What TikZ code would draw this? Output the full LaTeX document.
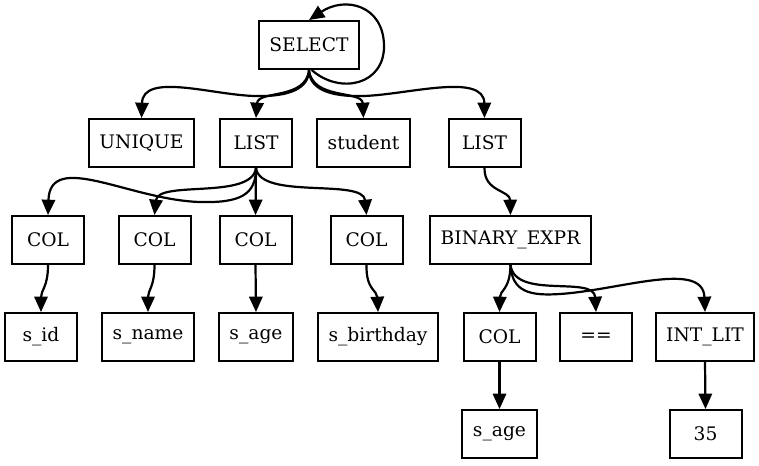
\documentclass[tikz,border=0pt]{standalone}
\usepackage{fontspec}
\setmainfont{DejaVu Serif}
\usetikzlibrary{arrows.meta}
\begin{document}
\begin{tikzpicture}[x=0.75pt,y=-0.75pt,
  box/.style={draw, line width=1.5pt, minimum width=54pt, minimum height=36pt,
    inner xsep=7.9pt, inner ysep=0pt, font=\fontsize{14pt}{16pt}\selectfont},
  conn/.style={line width=1.65pt, -{Triangle[length=11.5pt,width=10pt]}}]
\useasboundingbox (0,0) rectangle (759,465);

% nodes of the syntax tree
\node[box] (sel)  at (309,45)    {SELECT};
\node[box] (uniq) at (141.5,143) {UNIQUE};
\node[box] (lsa)  at (256,143)   {LIST};
\node[box] (stu)  at (363.5,143) {student};
\node[box] (lsb)  at (484.5,143) {LIST};
\node[box] (ca)   at (48,240)    {COL};
\node[box] (cb)   at (154.5,240) {COL};
\node[box] (cc)   at (255.5,240) {COL};
\node[box] (cd)   at (366.5,240) {COL};
\node[box] (bin)  at (510.5,240) {BINARY\_EXPR};
\node[box] (sid)  at (41,337)    {s\_id};
\node[box] (snm)  at (148,337)   {s\_name};
\node[box] (sag)  at (256,337)   {s\_age};
\node[box] (sbd)  at (378,337)   {s\_birthday};
\node[box] (ce)   at (499.5,337) {COL};
\node[box] (eq)   at (596,337)   {==};
\node[box] (ilit) at (705,337)   {INT\_LIT};
\node[box] (sagb) at (499.5,434) {s\_age};
\node[box] (num)  at (705.5,434) {35};

% SELECT children
\draw[conn] (sel.south) .. controls (309,88) and (290,97) .. (255,96)
  .. controls (212,95) and (143,72) .. (uniq.north);
\draw[conn] (sel.south) .. controls (306,100) and (258,90) .. (lsa.north);
\draw[conn] (sel.south) .. controls (312,100) and (362,90) .. (stu.north);
\draw[conn] (sel.south) .. controls (309,88) and (328,97) .. (363,96)
  .. controls (406,95) and (484,72) .. (lsb.north);
\draw[conn] ([xshift=2pt]sel.south) .. controls (340,95) and (385,85) .. (384,45)
  .. controls (383,5) and (345,-4) .. (sel.north);

% first LIST
\draw[conn] (lsa.south) .. controls (256,195) and (240,203) .. (200,202)
  .. controls (130,200) and (50,150) .. (ca.north);
\draw[conn] (lsa.south) .. controls (252,200) and (158,180) .. (cb.north);
\draw[conn] (lsa.south) -- (cc.north);
\draw[conn] (lsa.south) .. controls (260,200) and (363,178) .. (cd.north);

% column names
\draw[conn] (ca.south) .. controls (48,287) and (41,290) .. (sid.north);
\draw[conn] (cb.south) .. controls (154.5,287) and (148,290) .. (snm.north);
\draw[conn] (cc.south) -- (sag.north);
\draw[conn] (cd.south) .. controls (366,290) and (377,290) .. (sbd.north);

% second LIST and the expression
\draw[conn] (lsb.south) .. controls (484,192) and (510,190) .. (bin.north);
\draw[conn] (bin.south) .. controls (510,290) and (500,290) .. (ce.north);
\draw[conn] (bin.south) .. controls (515,300) and (594,275) .. (eq.north);
\draw[conn] (bin.south) .. controls (512,292) and (530,296) .. (560,294)
  .. controls (620,290) and (703,260) .. (ilit.north);
\draw[conn] (ce.south) -- (sagb.north);
\draw[conn] (ilit.south) -- (num.north);
\end{tikzpicture}
\end{document}
